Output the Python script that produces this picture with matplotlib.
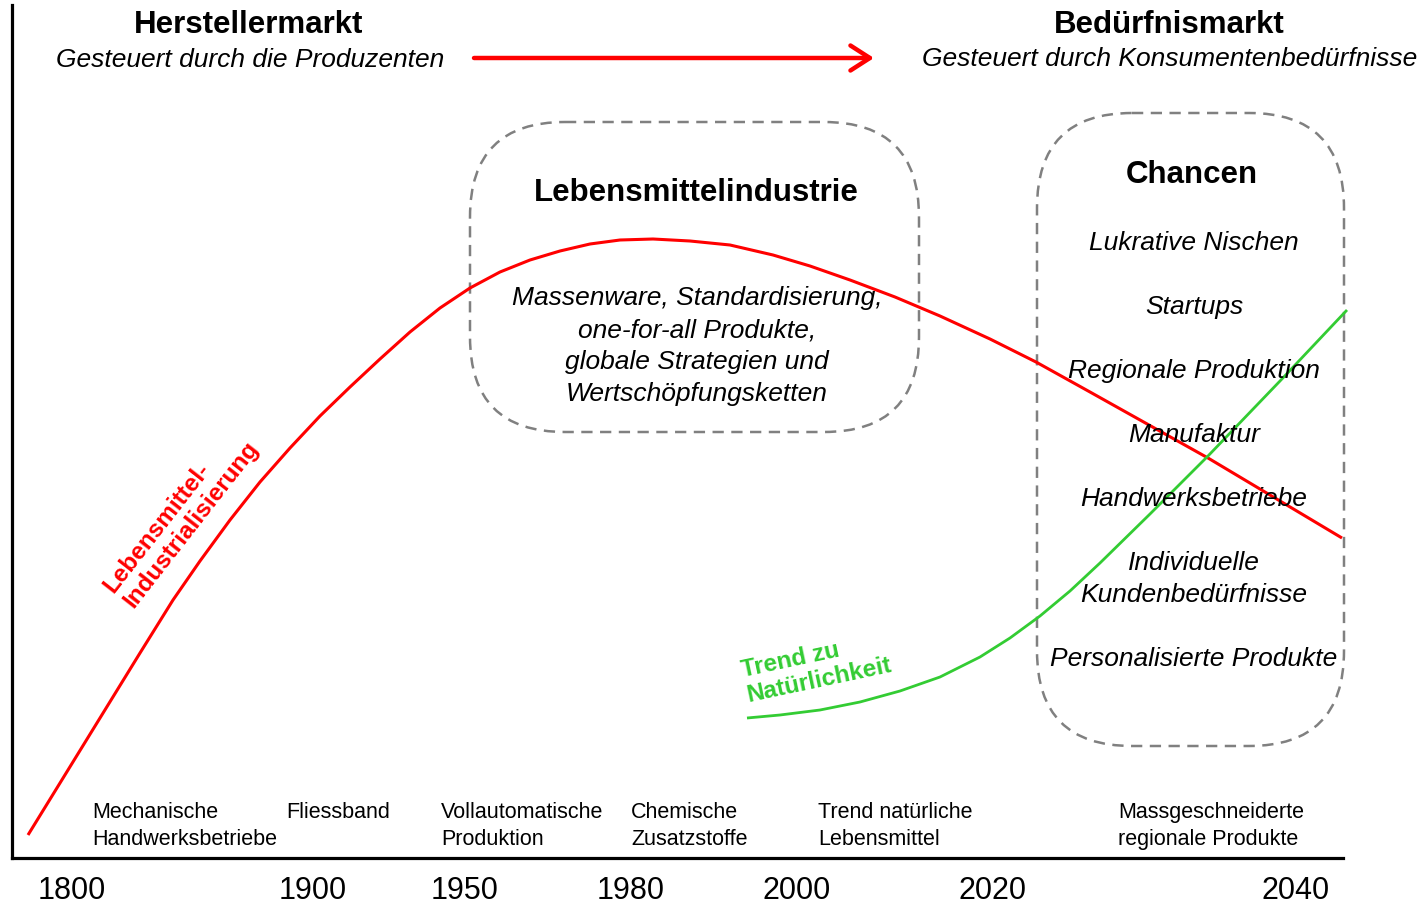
import matplotlib.pyplot as plt
from matplotlib.patches import FancyBboxPatch

plt.rcParams['font.family'] = ['Liberation Sans', 'DejaVu Sans']

# x axis: labelled years sit at uneven positions (pixel-like units)
years = ['1800', '1900', '1950', '1980', '2000', '2020', '2040']
year_pos = [72, 313, 465, 631, 797, 993, 1296]

milestones = ['Mechanische\nHandwerksbetriebe', 'Fliessband', 'Vollautomatische\nProduktion',
              'Chemische\nZusatzstoffe', 'Trend natürliche\nLebensmittel',
              'Massgeschneiderte\nregionale Produkte']
milestone_pos = [92, 286, 441, 631, 818, 1118]

red_x = [28, 60, 100, 140, 173, 200, 230, 260, 290, 320, 350, 380, 410, 440, 470, 500,
         530, 560, 590, 620, 653, 690, 730, 773, 810, 850, 895, 940, 990, 1036, 1090,
         1149, 1208, 1270, 1342]
red_y = [835, 783, 718, 653, 600, 561, 520, 482, 448, 416, 387, 359, 332, 308, 288, 272,
         260, 251, 244, 240, 239, 241, 245, 255, 266, 280, 297, 316, 339, 362, 392,
         425, 458, 495, 538]

green_x = [747, 780, 820, 860, 900, 940, 980, 1010, 1040, 1070, 1100, 1150, 1208, 1280, 1347]
green_y = [718, 715, 710, 702, 691, 677, 657, 638, 616, 591, 563, 514, 456, 381, 310]

chancen = ['Lukrative Nischen', 'Startups', 'Regionale Produktion', 'Manufaktur',
           'Handwerksbetriebe', 'Individuelle\nKundenbedürfnisse', 'Personalisierte Produkte']
chancen_y = [242, 306, 370, 434, 498, 578, 658]

industrie_text = ('Massenware, Standardisierung,\none-for-all Produkte,\n'
                  'globale Strategien und\nWertschöpfungsketten')

RED = '#ff0000'
GREEN = '#33cc33'
GRAY = '#808080'

fig = plt.figure(figsize=(14.22, 9.06), dpi=100)
ax = fig.add_axes([0, 0, 1, 1])
ax.set_xlim(0, 1422)
ax.set_ylim(906, 0)
ax.patch.set_alpha(0)

for s in ['top', 'right']:
    ax.spines[s].set_visible(False)
ax.spines['left'].set_position(('data', 12))
ax.spines['left'].set_bounds(5, 858)
ax.spines['bottom'].set_position(('data', 858))
ax.spines['bottom'].set_bounds(12, 1343)
ax.spines['left'].set_linewidth(2.3)
ax.spines['bottom'].set_linewidth(2.3)
ax.set_yticks([])
ax.set_xticks(year_pos, years)
ax.tick_params(axis='x', length=0, pad=13, labelsize=22)

# dashed rounded boxes
box1 = FancyBboxPatch((470, 122), 449, 310, boxstyle='round,pad=0,rounding_size=95',
                      fill=False, ec=GRAY, lw=1.8, ls=(0, (4.5, 3)))
box2 = FancyBboxPatch((1037, 113), 307, 633, boxstyle='round,pad=0,rounding_size=95',
                      fill=False, ec=GRAY, lw=1.8, ls=(0, (4.5, 3)))
ax.add_patch(box1)
ax.add_patch(box2)

# curves
ax.plot(red_x, red_y, color=RED, lw=2.2, solid_capstyle='butt', solid_joinstyle='round')
ax.plot(green_x, green_y, color=GREEN, lw=2.0, solid_capstyle='butt', solid_joinstyle='round')

# headings
ax.text(249, 25, 'Herstellermarkt', ha='center', va='center', fontsize=22.5, fontweight='bold')
ax.text(250, 60, 'Gesteuert durch die Produzenten', ha='center', va='center',
        fontsize=19, style='italic')
ax.text(1169, 25, 'Bedürfnismarkt', ha='center', va='center', fontsize=22.5, fontweight='bold')
ax.text(1170, 59, 'Gesteuert durch Konsumentenbedürfnisse', ha='center', va='center',
        fontsize=19, style='italic')
ax.annotate('', xy=(874, 58), xytext=(474, 58),
            arrowprops=dict(arrowstyle='->,head_length=0.7,head_width=0.45', color=RED,
                            lw=3.2, mutation_scale=20, shrinkA=0, shrinkB=0))

# box contents
ax.text(696, 193, 'Lebensmittelindustrie', ha='center', va='center', fontsize=22.5,
        fontweight='bold')
ax.text(697, 346, industrie_text, ha='center', va='center', multialignment='center',
        fontsize=19, style='italic', linespacing=1.42)
ax.text(1192, 175, 'Chancen', ha='center', va='center', fontsize=22.5, fontweight='bold')
for label, y in zip(chancen, chancen_y):
    ax.text(1194, y + 1, label, ha='center', va='center', multialignment='center',
            fontsize=19, style='italic', linespacing=1.42)

# curve labels
ax.text(181, 517, 'Lebensmittel-\nIndustrialisierung', color=RED, fontsize=17.5,
        fontweight='bold', rotation=52, rotation_mode='anchor', ha='center', va='center',
        multialignment='left', linespacing=1.15)
ax.text(816, 668, 'Trend zu\nNatürlichkeit', color=GREEN, fontsize=17.5,
        fontweight='bold', rotation=12, rotation_mode='anchor', ha='center', va='center',
        multialignment='left', linespacing=1.15)

# milestones above the time axis
for label, x in zip(milestones, milestone_pos):
    ax.text(x, 802, label, ha='left', va='top', fontsize=15.5, linespacing=1.4)

fig.savefig('out.png', dpi=100)
